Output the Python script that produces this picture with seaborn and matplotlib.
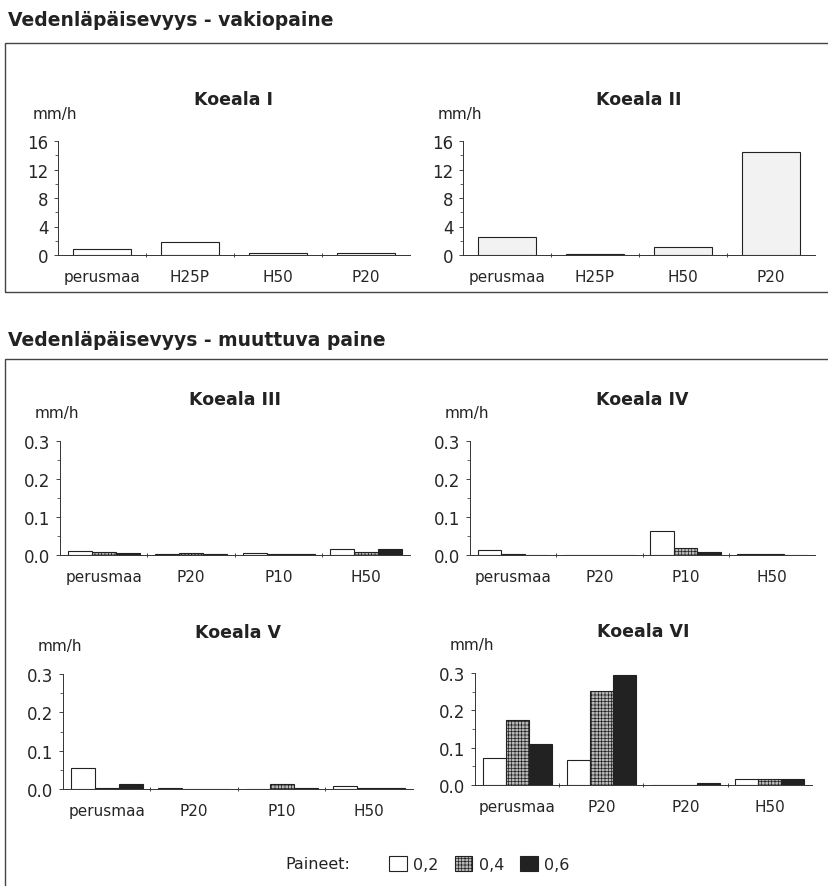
import matplotlib.pyplot as plt
import matplotlib.patches as mpatches
from matplotlib.ticker import MultipleLocator, FixedLocator, NullFormatter
import pandas as pd
import seaborn as sns

sns.set_style('ticks')
plt.rcParams['font.family'] = ['DejaVu Sans']
plt.rcParams['hatch.linewidth'] = 0.5

# Vedenläpäisevyys - vakiopaine
vakio_cats = ['perusmaa', 'H25P', 'H50', 'P20']
koeala1 = [0.8, 1.85, 0.3, 0.3]
koeala2 = [2.5, 0.15, 1.1, 14.5]

# Vedenläpäisevyys - muuttuva paine (paineet 0,2 / 0,4 / 0,6)
paineet = ['0,2', '0,4', '0,6']
cats_3_5 = ['perusmaa', 'P20', 'P10', 'H50']
cats_6 = ['perusmaa', 'P20', 'P20', 'H50']

koeala3_02 = [0.010, 0.002, 0.006, 0.016]
koeala3_04 = [0.008, 0.004, 0.002, 0.009]
koeala3_06 = [0.006, 0.003, 0.002, 0.017]

koeala4_02 = [0.013, 0.001, 0.063, 0.002]
koeala4_04 = [0.003, 0.001, 0.019, 0.002]
koeala4_06 = [0.001, 0.001, 0.009, 0.001]

koeala5_02 = [0.055, 0.003, 0.001, 0.007]
koeala5_04 = [0.002, 0.001, 0.014, 0.002]
koeala5_06 = [0.013, 0.001, 0.003, 0.002]

koeala6_02 = [0.072, 0.067, 0.001, 0.016]
koeala6_04 = [0.175, 0.252, 0.001, 0.016]
koeala6_06 = [0.110, 0.295, 0.005, 0.016]

colors = {'0,2': 'white', '0,4': '#b8b8b8', '0,6': '#222222'}
GRID = '+++++'

W, H = 829, 887
fig = plt.figure(figsize=(W / 100, H / 100), dpi=100)


def rect(x0, y0, x1, y1):
    # pixel box (top-left origin) -> figure fraction
    return [x0 / W, 1 - y1 / H, (x1 - x0) / W, (y1 - y0) / H]


def style_axis(ax, n, ymax, major, minor, title, fmt):
    ax.set_xlim(-0.5, n - 0.5)
    ax.set_ylim(0, ymax)
    ax.yaxis.set_major_locator(MultipleLocator(major))
    ax.yaxis.set_minor_locator(MultipleLocator(minor))
    ax.yaxis.set_major_formatter(fmt)
    ax.xaxis.set_major_locator(FixedLocator([i + 0.5 for i in range(n - 1)]))
    ax.xaxis.set_major_formatter(NullFormatter())
    ax.xaxis.set_minor_locator(FixedLocator(range(n)))
    ax.tick_params(axis='x', which='major', length=3, width=0.6, direction='inout')
    ax.tick_params(axis='x', which='minor', length=0, pad=10, labelsize=11)
    ax.tick_params(axis='y', which='major', length=3, width=0.6, labelsize=12, pad=4)
    ax.tick_params(axis='y', which='minor', length=2, width=0.5)
    ax.set_xlabel('')
    ax.set_ylabel('')
    sns.despine(ax=ax)
    for s in ['left', 'bottom']:
        ax.spines[s].set_linewidth(0.7)
        ax.spines[s].set_color('#333333')
    ax.annotate(title, xy=(0.5, 1), xycoords='axes fraction', xytext=(0, 42),
                textcoords='offset pixels', ha='center', va='center',
                fontsize=12.5, fontweight='bold', color='#222222')
    ax.annotate('mm/h', xy=(0, 1), xycoords='axes fraction', xytext=(-25, 28),
                textcoords='offset pixels', ha='left', va='center',
                fontsize=11, color='#222222')


def vakio_plot(box, values, fill, title):
    ax = fig.add_axes(rect(*box))
    df = pd.DataFrame({'pos': range(len(vakio_cats)), 'arvo': values})
    sns.barplot(data=df, x='pos', y='arvo', color=fill, saturation=1,
                width=0.65, edgecolor='#222222', linewidth=0.8, ax=ax)
    style_axis(ax, len(vakio_cats), 16, 4, 2, title, '{x:.0f}')
    ax.set_xticks(range(len(vakio_cats)), vakio_cats, minor=True)
    return ax


def muuttuva_plot(box, cats, v02, v04, v06, title):
    ax = fig.add_axes(rect(*box))
    rows = []
    for p, vals in zip(paineet, [v02, v04, v06]):
        for i, v in enumerate(vals):
            rows.append({'pos': i, 'paine': p, 'arvo': v})
    df = pd.DataFrame(rows)
    sns.barplot(data=df, x='pos', y='arvo', hue='paine', hue_order=paineet,
                palette=colors, saturation=1, width=0.82, gap=0, dodge=True,
                edgecolor='#222222', linewidth=0.8, legend=False, ax=ax)
    for bar in ax.containers[1]:
        bar.set_hatch(GRID)
    style_axis(ax, len(cats), 0.3, 0.1, 0.05, title, '{x:.1f}')
    ax.set_xticks(range(len(cats)), cats, minor=True)
    return ax


# section frames and headings
fig.add_artist(mpatches.Rectangle((5 / W, 1 - 293 / H), 1.0, (293 - 44) / H,
                                  transform=fig.transFigure, fill=False,
                                  edgecolor='#444444', linewidth=1.0))
fig.add_artist(mpatches.Rectangle((5 / W, -0.1), 1.0, 0.1 + 1 - 360 / H,
                                  transform=fig.transFigure, fill=False,
                                  edgecolor='#444444', linewidth=1.0))
fig.text(8 / W, 1 - 20 / H, 'Vedenläpäisevyys - vakiopaine', fontsize=13.5,
         fontweight='bold', va='center', ha='left', color='#222222')
fig.text(8 / W, 1 - 340 / H, 'Vedenläpäisevyys - muuttuva paine', fontsize=13.5,
         fontweight='bold', va='center', ha='left', color='#222222')

vakio_plot((58, 142, 410, 256), koeala1, 'white', 'Koeala I')
vakio_plot((463, 142, 815, 256), koeala2, '#f2f2f2', 'Koeala II')

muuttuva_plot((60, 442, 410, 556), cats_3_5, koeala3_02, koeala3_04, koeala3_06, 'Koeala III')
muuttuva_plot((470, 442, 815, 556), cats_3_5, koeala4_02, koeala4_04, koeala4_06, 'Koeala IV')
muuttuva_plot((63, 675, 413, 790), cats_3_5, koeala5_02, koeala5_04, koeala5_06, 'Koeala V')
muuttuva_plot((475, 674, 812, 786), cats_6, koeala6_02, koeala6_04, koeala6_06, 'Koeala VI')

# legend
handles = [mpatches.Patch(facecolor=colors[p], edgecolor='#222222', linewidth=0.8,
                          hatch=GRID if p == '0,4' else None, label=p) for p in paineet]
fig.text(285 / W, 1 - 865 / H, 'Paineet:', fontsize=11.5, va='center', ha='left',
         color='#222222')
fig.legend(handles=handles, loc='center left', bbox_to_anchor=(383 / W, 1 - 865 / H),
           ncol=3, frameon=False, fontsize=11.5, handlelength=1.1, handleheight=1.1,
           handletextpad=0.4, columnspacing=1.0, borderaxespad=0)

fig.savefig('out.png', dpi=100)
